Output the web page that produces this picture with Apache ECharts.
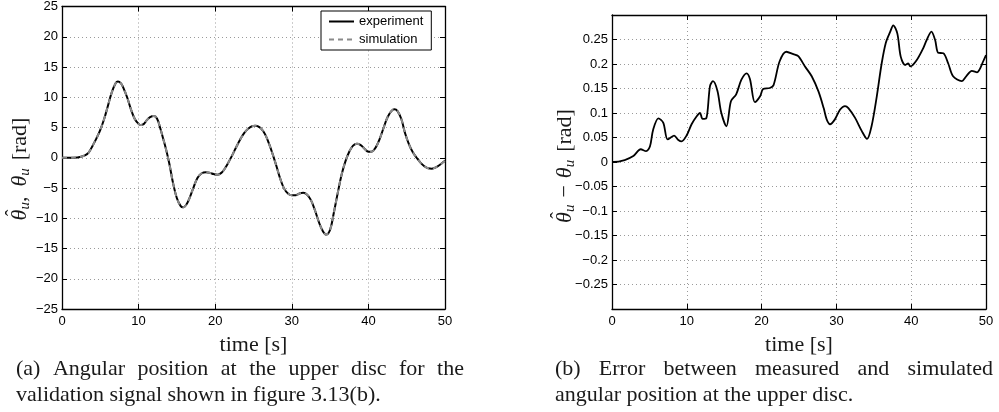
<!DOCTYPE html>
<html><head><meta charset="utf-8">
<script src="https://cdn.jsdelivr.net/npm/echarts@6/dist/echarts.min.js"></script>
<style>html,body{margin:0;padding:0;background:#fff}#c{width:999px;height:412px}</style>
</head><body><div id="c"></div>
<script>
// ---------- data ----------
const timeA = [0,1,2,3,3.5,4,4.5,5,5.5,6,6.5,7,7.3,7.7,8,8.5,9,9.5,10,10.3,10.7,11,11.5,12,12.4,12.8,13.2,13.6,14,14.5,15,15.5,15.8,16.2,16.7,17.2,17.7,18.2,18.8,19.3,19.8,20.3,20.8,21.3,21.8,22.3,22.8,23.3,23.8,24.3,24.8,25.2,25.6,26,26.5,27,27.5,28,28.5,29,29.5,30,30.5,31,31.5,32,32.5,33,33.5,34,34.5,35,35.5,36,36.5,37,37.5,38,38.5,39,39.5,40,40.4,41,41.5,42,42.5,43,43.4,43.8,44.3,44.8,45.3,45.8,46.3,46.8,47.3,47.8,48.3,48.8,49.3,49.7,50];
const experiment = [0,0,0.05,0.4,0.9,2.0,3.2,4.6,6.4,8.6,10.8,12.3,12.6,12.3,11.6,10.0,8.0,6.4,5.6,5.4,5.6,6.1,6.7,6.9,6.5,5.0,3.2,1.3,-0.9,-4.2,-6.7,-8.0,-8.2,-7.8,-6.5,-4.8,-3.3,-2.6,-2.4,-2.5,-2.7,-2.8,-2.5,-1.7,-0.6,0.6,1.9,3.1,4.1,4.8,5.2,5.3,5.2,4.8,3.9,2.4,0.6,-1.4,-3.5,-5.1,-5.9,-6.2,-6.2,-5.9,-5.8,-6.1,-7.0,-8.6,-10.5,-12.0,-12.7,-11.9,-9.0,-5.8,-2.8,-0.6,1.0,2.0,2.3,2.1,1.5,1.0,1.0,1.8,3.2,5.0,6.7,7.7,8.0,7.7,6.4,4.0,2.2,0.9,0.0,-0.8,-1.4,-1.75,-1.8,-1.6,-1.2,-0.8,-0.5];
const simulation = [0,0,0.05,0.4,0.9,2.0,3.2,4.6,6.4,8.6,10.8,12.3,12.6,12.3,11.6,10.0,8.0,6.4,5.6,5.4,5.6,6.1,6.7,6.9,6.5,5.0,3.2,1.3,-0.9,-4.2,-6.7,-8.0,-8.2,-7.8,-6.5,-4.8,-3.3,-2.6,-2.4,-2.5,-2.7,-2.8,-2.5,-1.7,-0.6,0.6,1.9,3.1,4.1,4.8,5.2,5.3,5.2,4.8,3.9,2.4,0.6,-1.4,-3.5,-5.1,-5.9,-6.2,-6.2,-5.9,-5.8,-6.1,-7.0,-8.6,-10.5,-12.0,-12.7,-11.9,-9.0,-5.8,-2.8,-0.6,1.0,2.0,2.3,2.1,1.5,1.0,1.0,1.8,3.2,5.0,6.7,7.7,8.0,7.7,6.4,4.0,2.2,0.9,0.0,-0.8,-1.4,-1.75,-1.8,-1.6,-1.2,-0.8,-0.5];

const timeB = [0,0.2,1.7,2.85,3.84,4.55,5.08,5.5,6.2,6.86,7.44,8.3,8.87,9.3,9.97,10.64,11.3,11.77,12.1,12.6,13.1,13.5,14.1,14.6,15.3,15.9,16.6,17.3,18.0,18.45,19.1,19.8,20.2,21.1,21.6,22.4,23.3,24.25,24.9,25.8,26.7,27.6,28.3,28.7,29.15,29.8,30.5,31.15,31.6,32.5,33.4,34.1,34.7,35.4,36.05,36.6,37.2,37.6,38.15,38.6,39.2,39.6,39.9,40.7,41.6,42.07,42.7,43.2,43.6,44.3,44.95,45.6,46.75,47.4,48.1,48.8,49.7,50];
const errorB = [0,0,0.004,0.012,0.026,0.022,0.032,0.066,0.089,0.08,0.046,0.054,0.045,0.042,0.054,0.077,0.093,0.1,0.088,0.089,0.155,0.165,0.145,0.101,0.073,0.124,0.138,0.168,0.181,0.169,0.122,0.134,0.149,0.151,0.157,0.205,0.225,0.22,0.216,0.195,0.175,0.144,0.11,0.087,0.077,0.087,0.107,0.114,0.11,0.09,0.063,0.047,0.073,0.134,0.201,0.243,0.266,0.279,0.262,0.215,0.198,0.201,0.195,0.207,0.232,0.249,0.266,0.249,0.223,0.222,0.201,0.175,0.165,0.176,0.186,0.183,0.208,0.218];

const legendNames = ['experiment', 'simulation'];
const xAxisTitle = 'time [s]';
const captionA = ['(a) Angular position at the upper disc for the', 'validation signal shown in figure 3.13(b).'];
const captionB = ['(b) Error between measured and simulated', 'angular position at the upper disc.'];

// ---------- helpers ----------
const SANS = '"Liberation Sans", Arial, Helvetica, sans-serif';
const SERIF = '"Liberation Serif", "Times New Roman", serif';
const INK = '#1a1a1a';
const fmtNum = v => {
  const r = Math.round(v * 100) / 100;
  return String(r).replace('-', '\u2212');
};
const capFont = 'normal 22px ' + SERIF;
const mctx = document.createElement('canvas').getContext('2d');
function measure(text, font) { mctx.font = font; return mctx.measureText(text).width; }

function captionLine(text, x, y, width, justify) {
  if (!justify) {
    return [{type: 'text', x: x, y: y, silent: true,
      style: {text: text, font: capFont, fill: INK, align: 'left', verticalAlign: 'middle'}}];
  }
  const words = text.split(' ');
  const ws = words.map(w => measure(w, capFont));
  const gap = (width - ws.reduce((a, b) => a + b, 0)) / (words.length - 1);
  let cx = x;
  return words.map((w, i) => {
    const el = {type: 'text', x: cx, y: y, silent: true,
      style: {text: w, font: capFont, fill: INK, align: 'left', verticalAlign: 'middle'}};
    cx += ws[i] + gap;
    return el;
  });
}

// math label built from pieces in a rotated group
const F_IT = 'italic 22px ' + SERIF;
const F_N = 'normal 22px ' + SERIF;
const F_SUB = 'italic 15px ' + SERIF;
function mathLabel(cx, cy, pieces) {
  const widths = pieces.map(p => measure(p.t, p.f) + (p.gapAfter || 0));
  const W = widths.reduce((a, b) => a + b, 0);
  let x = -W / 2;
  const children = [];
  pieces.forEach((p, i) => {
    children.push({type: 'text', x: x, y: p.dy || 0, silent: true,
      style: {text: p.t, font: p.f, fill: INK, align: 'left', verticalAlign: 'middle'}});
    if (p.hat) {
      children.push({type: 'text', x: x + measure(p.t, p.f) / 2 + 2, y: -5, silent: true,
        style: {text: '\u02C6', font: 'normal 20px ' + SERIF, fill: INK, align: 'center', verticalAlign: 'middle'}});
    }
    x += widths[i];
  });
  return {type: 'group', x: cx, y: cy, rotation: Math.PI / 2, silent: true, children: children};
}

const axisLineStyle = {color: '#000', width: 1.3};
const gridLineStyle = {color: '#9a9a9a', type: [1, 3], width: 1};

function mainX(gi, name) {
  return {type: 'value', gridIndex: gi, min: 0, max: 50, interval: 10, position: 'bottom',
    name: name, nameLocation: 'middle', nameGap: 25,
    nameTextStyle: {fontFamily: SERIF, fontSize: 22, color: INK},
    axisLine: {show: true, onZero: false, lineStyle: axisLineStyle},
    axisTick: {show: true, inside: true, length: 5, lineStyle: {color: '#000'}},
    axisLabel: {fontFamily: SANS, fontSize: 13, color: '#000', margin: 6},
    splitLine: {show: true, lineStyle: gridLineStyle}};
}
function topX(gi) {
  return {type: 'value', gridIndex: gi, min: 0, max: 50, interval: 10, position: 'top',
    axisLine: {show: true, onZero: false, lineStyle: axisLineStyle},
    axisTick: {show: true, inside: true, length: 5, lineStyle: {color: '#000'}},
    axisLabel: {show: false}, splitLine: {show: false}};
}
function mainY(gi, min, max, interval, fmt) {
  return {type: 'value', gridIndex: gi, min: min, max: max, interval: interval, position: 'left',
    axisLine: {show: true, onZero: false, lineStyle: axisLineStyle},
    axisTick: {show: true, inside: true, length: 5, lineStyle: {color: '#000'}},
    axisLabel: {fontFamily: SANS, fontSize: 13, color: '#000', margin: 4, formatter: fmt},
    splitLine: {show: true, lineStyle: gridLineStyle}};
}
function rightY(gi, min, max, interval) {
  return {type: 'value', gridIndex: gi, min: min, max: max, interval: interval, position: 'right',
    axisLine: {show: true, onZero: false, lineStyle: axisLineStyle},
    axisTick: {show: true, inside: true, length: 5, lineStyle: {color: '#000'}},
    axisLabel: {show: false}, splitLine: {show: false}};
}

const graphics = []
  .concat(captionLine(captionA[0], 16, 369, 448, true))
  .concat(captionLine(captionA[1], 16, 395, 0, false))
  .concat(captionLine(captionB[0], 555, 369, 438, true))
  .concat(captionLine(captionB[1], 555, 395, 0, false));
graphics.push(mathLabel(20, 169, [
  {t: '\u03B8', f: F_IT, hat: true},
  {t: 'u', f: F_SUB, dy: 5},
  {t: ',', f: F_N, gapAfter: 10},
  {t: '\u03B8', f: F_IT},
  {t: 'u', f: F_SUB, dy: 5, gapAfter: 8},
  {t: '[rad]', f: F_N}
]));
graphics.push(mathLabel(565, 166, [
  {t: '\u03B8', f: F_IT, hat: true},
  {t: 'u', f: F_SUB, dy: 5, gapAfter: 7},
  {t: '\u2212', f: F_N, gapAfter: 7},
  {t: '\u03B8', f: F_IT},
  {t: 'u', f: F_SUB, dy: 5, gapAfter: 8},
  {t: '[rad]', f: F_N}
]));

const chart = echarts.init(document.getElementById('c'), null, {renderer: 'canvas'});
chart.setOption({
  animation: false,
  backgroundColor: '#fff',
  grid: [
    {left: 62, top: 6, width: 383, height: 303},
    {left: 612, top: 15, width: 374, height: 294}
  ],
  xAxis: [mainX(0, xAxisTitle), topX(0), mainX(1, xAxisTitle), topX(1)],
  yAxis: [
    mainY(0, -25, 25, 5, v => fmtNum(v)),
    rightY(0, -25, 25, 5),
    mainY(1, -0.3, 0.3, 0.05, v => (Math.abs(v) > 0.29 ? '' : fmtNum(v))),
    rightY(1, -0.3, 0.3, 0.05)
  ],
  legend: {
    data: legendNames, orient: 'vertical', left: 321, top: 11,
    padding: [4, 8, 4, 7], itemWidth: 25, itemHeight: 12, itemGap: 5,
    borderColor: '#000', borderWidth: 1, borderRadius: 0, backgroundColor: '#fff',
    itemStyle: {opacity: 0},
    textStyle: {fontFamily: SANS, fontSize: 13, color: '#000'}
  },
  series: [
    {name: legendNames[0], type: 'line', xAxisIndex: 0, yAxisIndex: 0, symbol: 'none', smooth: 0.4,
      lineStyle: {color: '#000', width: 2}, itemStyle: {color: '#000'},
      data: timeA.map((t, i) => [t, experiment[i]])},
    {name: legendNames[1], type: 'line', xAxisIndex: 0, yAxisIndex: 0, symbol: 'none', smooth: 0.4,
      lineStyle: {color: '#8a8a8a', width: 2, type: [5, 4]}, itemStyle: {color: '#8a8a8a'},
      data: timeA.map((t, i) => [t, simulation[i]])},
    {name: 'error', type: 'line', xAxisIndex: 2, yAxisIndex: 2, symbol: 'none', smooth: 0.3,
      lineStyle: {color: '#000', width: 1.8},
      data: timeB.map((t, i) => [t, errorB[i]])}
  ],
  graphic: graphics
});
</script>
</body></html>
